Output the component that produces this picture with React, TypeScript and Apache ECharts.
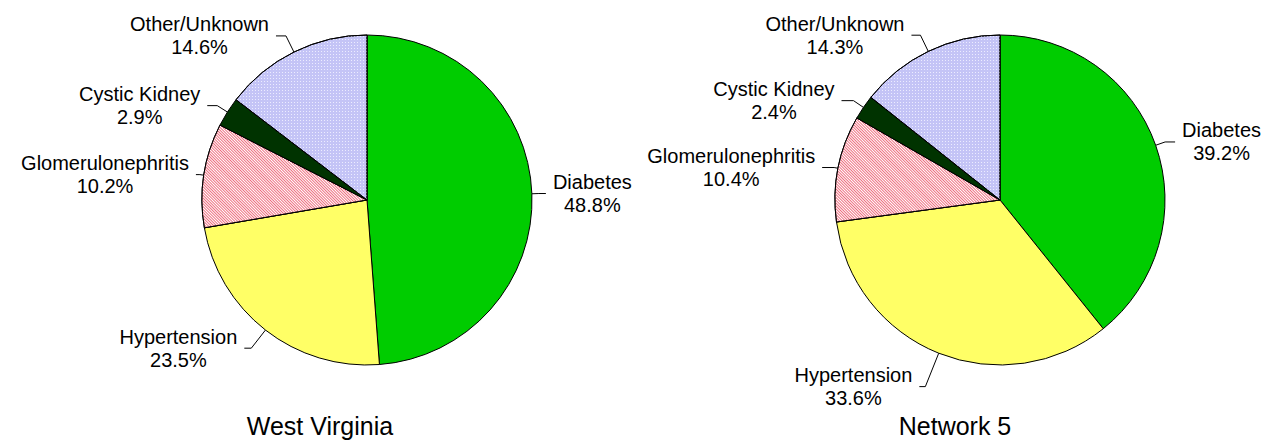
import React, { useEffect, useRef } from "react";
import * as echarts from "echarts";

const categories = ["Diabetes", "Hypertension", "Glomerulonephritis", "Cystic Kidney", "Other/Unknown"];
const westVirginia = [48.8, 23.5, 10.2, 2.9, 14.6];
const network5 = [39.2, 33.6, 10.4, 2.4, 14.3];
const titles = ["West Virginia", "Network 5"];

// label-line segment lengths [radial, horizontal] per slice, per pie
const wvLines = [[7, 7], [23, 7], [4, 4], [12, 10], [18, 10]];
const n5Lines = [[10, 10], [36, 6], [4, 12], [12, 12], [18, 9]];

const FONT = "Arial, 'Liberation Sans', Helvetica, sans-serif";

const sliceStyles: any[] = [
  { color: "#00cc00" },
  { color: "#ffff66" },
  {
    color: "#ffffff",
    decal: {
      symbol: "rect",
      symbolSize: 1,
      dashArrayX: [1, 0],
      dashArrayY: [1, 1],
      rotation: Math.PI / 4,
      color: "#ee6f80",
    },
  },
  { color: "#003300" },
  {
    color: "#c4c4f6",
    decal: {
      symbol: "rect",
      symbolSize: 1,
      dashArrayX: [1, 2],
      dashArrayY: [1, 2],
      color: "#ececff",
    },
  },
];

function buildData(values: number[], lines: number[][]) {
  return categories.map((name, i) => ({
    name,
    value: values[i],
    itemStyle: { ...sliceStyles[i], borderColor: "#000", borderWidth: 1 },
    labelLine: { length: lines[i][0], length2: lines[i][1] },
  }));
}

function pieSeries(values: number[], lines: number[][], center: [number, number]) {
  return {
    type: "pie",
    center,
    radius: 165,
    startAngle: 90,
    clockwise: true,
    avoidLabelOverlap: false,
    silent: true,
    data: buildData(values, lines),
    label: {
      show: true,
      formatter: (p: any) => `${p.name}\n${p.value.toFixed(1)}%`,
      fontFamily: FONT,
      fontSize: 20,
      lineHeight: 23,
      color: "#000",
      distanceToLabelLine: 7,
    },
    labelLine: {
      show: true,
      lineStyle: { color: "#000", width: 1 },
    },
    labelLayout: (p: any) => {
      const r = p.labelRect;
      return {
        x: r.x + r.width / 2,
        y: r.y + r.height / 2,
        align: "center",
        verticalAlign: "middle",
        labelLinePoints: p.labelLinePoints,
      };
    },
  };
}

export default function App() {
  const ref = useRef<HTMLDivElement>(null);
  useEffect(() => {
    if (!ref.current) return;
    const chart = echarts.init(ref.current, null, { renderer: "svg" });
    const titleStyle = { fontFamily: FONT, fontSize: 25, fontWeight: "normal", color: "#000" };
    chart.setOption({
      animation: false,
      backgroundColor: "#ffffff",
      title: [
        { text: titles[0], left: 315, top: 408, textAlign: "center", textStyle: titleStyle },
        { text: titles[1], left: 950, top: 408, textAlign: "center", textStyle: titleStyle },
      ],
      series: [
        pieSeries(westVirginia, wvLines, [367, 200]),
        pieSeries(network5, n5Lines, [1000, 200]),
      ],
    });
    return () => chart.dispose();
  }, []);
  return (
    <div
      ref={ref}
      style={{ position: "fixed", left: 0, top: 0, width: 1274, height: 442, background: "#fff" }}
    />
  );
}
